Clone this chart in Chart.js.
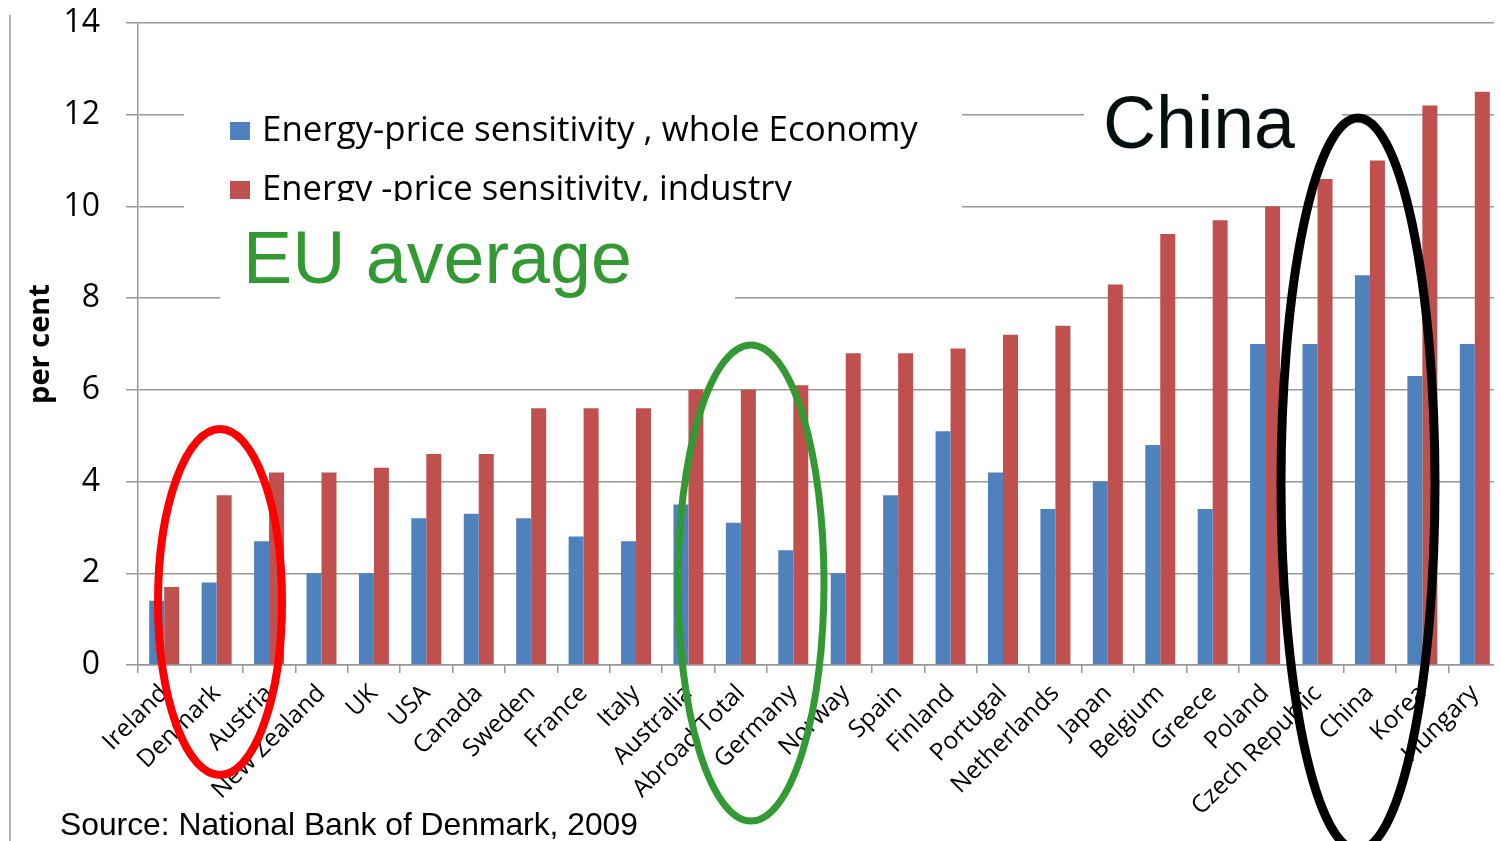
<!DOCTYPE html>
<html>
<head>
<meta charset="utf-8">
<script src="https://cdn.jsdelivr.net/npm/chart.js@4/dist/chart.umd.min.js"></script>
<style>
html,body{margin:0;padding:0;background:#fff;}
#wrap{position:relative;width:1501px;height:841px;}
</style>
</head>
<body>
<div id="wrap"><canvas id="c" width="1501" height="841"></canvas></div>
<script>
const categories = ["Ireland","Denmark","Austria","New Zealand","UK","USA","Canada","Sweden","France","Italy","Australia","Abroad Total","Germany","Norway","Spain","Finland","Portugal","Netherlands","Japan","Belgium","Greece","Poland","Czech Republic","China","Korea","Hungary"];
const wholeEconomy = [1.4,1.8,2.7,2.0,2.0,3.2,3.3,3.2,2.8,2.7,3.5,3.1,2.5,2.0,3.7,5.1,4.2,3.4,4.0,4.8,3.4,7.0,7.0,8.5,6.3,7.0];
const industry = [1.7,3.7,4.2,4.2,4.3,4.6,4.6,5.6,5.6,5.6,6.0,6.0,6.1,6.8,6.8,6.9,7.2,7.4,8.3,9.4,9.7,10.0,10.6,11.0,12.2,12.5];
const seriesNames = ["Energy-price sensitivity , whole Economy","Energy -price sensitivity, industry"];
const yTicks = [0,2,4,6,8,10,12,14];
const annotations = {eu:"EU average", china:"China", source:"Source: National Bank of Denmark, 2009", yTitle:"per cent"};

const BLUE = "#4f81bd", RED = "#c0504d", GRID = "#989898";

function fitFont(ctx, text, family, weight, targetW){
  ctx.font = weight + " 100px " + family;
  const w = ctx.measureText(text).width;
  const size = 100 * targetW / w;
  return weight + " " + size.toFixed(2) + "px " + family;
}

const overlay = {
  id: "overlay",
  beforeDraw(chart){
    const ctx = chart.ctx;
    ctx.save();
    ctx.fillStyle = "#fff";
    ctx.fillRect(0,0,chart.width,chart.height);
    ctx.strokeStyle = GRID; ctx.lineWidth = 1.5;
    ctx.beginPath(); ctx.moveTo(10,15); ctx.lineTo(10,841); ctx.stroke();
    ctx.restore();
  },
  afterDraw(chart){
    const ctx = chart.ctx;
    ctx.save();
    ctx.fillStyle = "#fff";
    ctx.fillRect(184, 98, 778, 114);
    ctx.fillRect(220, 212, 515, 94);
    ctx.fillRect(1084, 80, 258, 82);
    ctx.fillRect(1494, 0, 7, 841);
    ctx.fillStyle = BLUE; ctx.fillRect(230, 122, 20, 18);
    ctx.fillStyle = "#000";
    ctx.textBaseline = "alphabetic"; ctx.textAlign = "left";
    ctx.font = fitFont(ctx, seriesNames[0], "'Open Sans'", "normal", 656);
    ctx.fillText(seriesNames[0], 262, 141);
    ctx.save();
    ctx.beginPath(); ctx.rect(184, 160, 778, 41); ctx.clip();
    ctx.fillStyle = RED; ctx.fillRect(230, 181, 20, 18);
    ctx.fillStyle = "#000";
    ctx.font = fitFont(ctx, seriesNames[1], "'Open Sans'", "normal", 530);
    ctx.fillText(seriesNames[1], 262, 200);
    ctx.restore();
    ctx.fillStyle = "#339933";
    ctx.font = fitFont(ctx, annotations.eu, "'Liberation Sans'", "normal", 389);
    ctx.fillText(annotations.eu, 243, 283);
    ctx.fillStyle = "#061010";
    ctx.font = fitFont(ctx, annotations.china, "'Liberation Sans'", "normal", 192);
    ctx.fillText(annotations.china, 1103, 148);
    ctx.fillStyle = "#000";
    ctx.font = fitFont(ctx, annotations.source, "'Liberation Sans'", "normal", 578);
    ctx.fillText(annotations.source, 60, 835);
    ctx.lineWidth = 8; ctx.strokeStyle = "#ff0000";
    ctx.beginPath(); ctx.ellipse(220, 602, 62, 173, 0, 0, Math.PI*2); ctx.stroke();
    ctx.lineWidth = 7; ctx.strokeStyle = "#339933";
    ctx.beginPath(); ctx.ellipse(751, 583, 73, 238, 0, 0, Math.PI*2); ctx.stroke();
    ctx.lineWidth = 9; ctx.strokeStyle = "#000";
    ctx.beginPath(); ctx.ellipse(1358, 484, 77, 366, 0, 0, Math.PI*2); ctx.stroke();
    ctx.restore();
  }
};

new Chart(document.getElementById("c"), {
  type: "bar",
  data: {
    labels: categories,
    datasets: [
      {label: seriesNames[0], data: wholeEconomy, backgroundColor: BLUE, categoryPercentage: 0.572, barPercentage: 1.0},
      {label: seriesNames[1], data: industry, backgroundColor: RED, categoryPercentage: 0.572, barPercentage: 1.0}
    ]
  },
  options: {
    responsive: false,
    animation: false,
    devicePixelRatio: 1,
    layout: {padding: {top: 23, right: 0, left: 0, bottom: 0}},
    plugins: {legend: {display: false}, tooltip: {enabled: false}},
    scales: {
      x: {
        grid: {display: true, drawOnChartArea: false, drawTicks: true, tickLength: 8, color: GRID, lineWidth: 1.5, offset: true},
        border: {display: true, color: GRID, width: 1.5},
        ticks: {autoSkip: false, minRotation: 45, maxRotation: 45, color: "#000", padding: 6,
                font: {family: "'Open Sans'", size: 24.5}},
        afterFit(s){ s.height = 176; s.paddingTop = 0; s.paddingBottom = 0; s.paddingRight = 0; }
      },
      y: {
        min: 0, max: 14,
        afterBuildTicks(s){ s.ticks = yTicks.map(v => ({value: v})); },
        grid: {color: GRID, lineWidth: 1.5, tickLength: 12},
        border: {display: true, color: GRID, width: 1.5},
        ticks: {color: "#000", padding: 26, font: {family: "'Open Sans'", size: 32}},
        title: {display: true, text: annotations.yTitle, color: "#000", padding: {top: 23, bottom: 0},
                font: {family: "'Open Sans'", size: 29, weight: "bold"}},
        afterFit(s){ s.width = 138; s.paddingTop = 0; s.paddingBottom = 0; }
      }
    }
  },
  plugins: [overlay]
});
</script>
</body>
</html>
